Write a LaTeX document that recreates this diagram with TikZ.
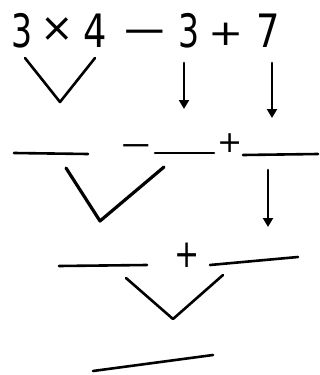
\documentclass[tikz,border=0pt]{standalone}
\usepackage{fontspec}
\setmainfont{DejaVu Sans}
\usetikzlibrary{arrows.meta}
\begin{document}
\begin{tikzpicture}[x=1pt,y=-1pt,
  pen/.style={line width=2.6pt,line cap=round,line join=round},
  arr/.style={pen,-{Triangle[length=9pt,width=10pt]}},
  big/.style={inner sep=0pt,font=\fontsize{46}{46}\selectfont},
  op/.style={inner sep=0pt,font=\fontsize{#1}{#1}\selectfont}]
\useasboundingbox (0,0) rectangle (320,375);
% top expression
\node[big,anchor=base] (d3) at (22,47) {\scalebox{0.72}[1]{3}};
\node[op=40] (tm) at (57,30) {×};
\node[big,anchor=base] (d4) at (95,47) {\scalebox{0.8}[1]{4}};
\node[op=58] (mn) at (145,37) {\scalebox{1}[0.65]{−}};
\node[big,anchor=base] (d3b) at (189,47) {\scalebox{0.72}[1]{3}};
\node[op=42] (pl) at (226,34) {\scalebox{1}[0.85]{+}};
\node[big,anchor=base] (d7) at (268,47) {\scalebox{0.8}[1]{7}};
% first V
\coordinate (v1a) at (25,58); \coordinate (v1b) at (60,102); \coordinate (v1c) at (95,58);
\draw[pen] (v1a) -- (v1b) -- (v1c);
% arrows
\coordinate (a1s) at (184,63); \coordinate (a1e) at (184,109);
\coordinate (a2s) at (272,63); \coordinate (a2e) at (272,118);
\draw[arr] (a1s) -- (a1e);
\draw[arr] (a2s) -- (a2e);
% second row
\coordinate (b1a) at (14,153); \coordinate (b1b) at (88,154);
\coordinate (b2a) at (155,153); \coordinate (b2b) at (214,153);
\coordinate (b3a) at (243,155); \coordinate (b3b) at (318,154);
\draw[pen] (b1a) -- (b1b);
\draw[pen] (b2a) -- (b2b);
\draw[pen] (b3a) -- (b3b);
\node[op=40] (mn2) at (136,150) {\scalebox{1}[0.7]{−}};
\node[op=30] (pl2) at (230,143) {+};
% second V
\coordinate (v2a) at (66,168); \coordinate (v2b) at (100,221); \coordinate (v2c) at (164,167);
\draw[pen,line width=3.2pt] (v2a) -- (v2b) -- (v2c);
% arrow 3
\coordinate (a3s) at (268,170); \coordinate (a3e) at (268,227);
\draw[arr] (a3s) -- (a3e);
% third row
\coordinate (c1a) at (59,266); \coordinate (c1b) at (147,265);
\coordinate (c2a) at (210,265); \coordinate (c2b) at (298,257);
\draw[pen] (c1a) -- (c1b);
\draw[pen] (c2a) -- (c2b);
\node[op=30] (pl3) at (187,255) {\scalebox{1}[1.3]{+}};
% third V
\coordinate (v3a) at (126,278); \coordinate (v3b) at (173,319); \coordinate (v3c) at (223,275);
\draw[pen] (v3a) -- (v3b) -- (v3c);
% result line
\coordinate (r1) at (93,371); \coordinate (r2) at (213,355);
\draw[pen] (r1) -- (r2);
\end{tikzpicture}
\end{document}
